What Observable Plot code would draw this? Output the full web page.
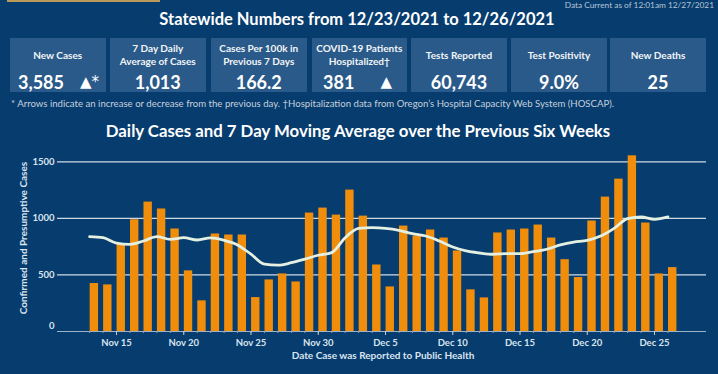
<!DOCTYPE html>
<html>
<head>
<meta charset="utf-8">
<script src="https://cdn.jsdelivr.net/npm/d3@7"></script>
<script src="https://cdn.jsdelivr.net/npm/@observablehq/plot@0.6"></script>
<style>
  html, body { margin: 0; padding: 0; }
  body { width: 718px; height: 374px; background: #063c6e; position: relative; overflow: hidden; font-family: Lato, "Open Sans", sans-serif; color: #fff; }
  .abs { position: absolute; }
  #goldbar { left: 7px; top: 0; width: 153px; height: 2px; background: #b99a5a; }
  #current { right: 4px; top: 0px; font-size: 8.3px; color: #b9c6d6; line-height: 10px; }
  #title { left: 0; width: 714px; top: 8px; text-align: center; font-size: 16.5px; font-weight: 700; line-height: 22px; }
  .box { position: absolute; top: 38px; height: 54px; width: 95.5px; background: #2a5a89; }
  .box .lab { position: absolute; left: 0; right: 0; top: 17px; transform: translateY(-50%); text-align: center; font-size: 10px; font-weight: 700; line-height: 12.7px; color: #f2f5f8; }
  .box .val { position: absolute; left: 0; right: 0; top: 44px; transform: translateY(-50%); text-align: center; font-size: 18px; font-weight: 700; line-height: 20px; }
  .box .val.split { text-align: left; }
  .arrow { position: absolute; top: 44px; transform: translateY(-50%); font-family: "DejaVu Sans", sans-serif; font-size: 15px; line-height: 20px; }
  #foot { left: 11px; top: 98px; font-size: 9.6px; color: #c6d0dc; line-height: 12px; white-space: nowrap; }
  #ctitle { left: 0; width: 716px; top: 120px; text-align: center; font-size: 16.8px; font-weight: 700; line-height: 22px; }
  #chart { left: 0; top: 140px; }
</style>
</head>
<body>
<div id="goldbar" class="abs"></div>
<div id="current" class="abs">Data Current as of 12:01am 12/27/2021</div>
<div id="title" class="abs">Statewide Numbers from 12/23/2021 to 12/26/2021</div>
<div id="boxes"></div>
<div id="foot" class="abs">* Arrows indicate an increase or decrease from the previous day. †Hospitalization data from Oregon’s Hospital Capacity Web System (HOSCAP).</div>
<div id="ctitle" class="abs">Daily Cases and 7 Day Moving Average over the Previous Six Weeks</div>
<div id="chart" class="abs"></div>
<script>
// ---- Data ----
const boxLabels = ["New Cases", "7 Day Daily<br>Average of Cases", "Cases Per 100k in<br>Previous 7 Days", "COVID-19 Patients<br>Hospitalized†", "Tests Reported", "Test Positivity", "New Deaths"];
const boxValues = ["3,585", "1,013", "166.2", "381", "60,743", "9.0%", "25"];
const boxArrows = ["▲*", "", "", "▲", "", "", ""];

const dates = [
  "2021-11-13","2021-11-14","2021-11-15","2021-11-16","2021-11-17","2021-11-18","2021-11-19","2021-11-20",
  "2021-11-21","2021-11-22","2021-11-23","2021-11-24","2021-11-25","2021-11-26","2021-11-27","2021-11-28",
  "2021-11-29","2021-11-30","2021-12-01","2021-12-02","2021-12-03","2021-12-04","2021-12-05","2021-12-06",
  "2021-12-07","2021-12-08","2021-12-09","2021-12-10","2021-12-11","2021-12-12","2021-12-13","2021-12-14",
  "2021-12-15","2021-12-16","2021-12-17","2021-12-18","2021-12-19","2021-12-20","2021-12-21","2021-12-22",
  "2021-12-23","2021-12-24","2021-12-25","2021-12-26"
];
const dailyCases = [
  424, 412, 776, 988, 1144, 1083, 906, 536,
  271, 862, 853, 853, 300, 456, 509, 438,
  1047, 1091, 1029, 1250, 1020, 588, 394, 932,
  844, 897, 826, 712, 368, 297, 871, 897,
  906, 941, 826, 635, 477, 977, 1188, 1347,
  1553, 959, 509, 565
];
const movingAvg = [
  838, 829, 782, 771, 800, 838, 815, 829,
  809, 827, 806, 765, 683, 595, 586, 608,
  639, 674, 697, 829, 912, 918, 912, 895,
  865, 844, 800, 747, 712, 694, 683, 688,
  688, 706, 727, 765, 791, 806, 844, 912,
  997, 1012, 992, 1013
];
const xTickLabels = ["2021-11-15","2021-11-20","2021-11-25","2021-11-30","2021-12-05","2021-12-10","2021-12-15","2021-12-20","2021-12-25"];
const yTicks = [0, 500, 1000, 1500];

// ---- Stat boxes ----
const boxLefts = [10, 110, 211, 311.5, 411.3, 511.3, 610.3];
const boxesEl = document.getElementById("boxes");
boxLabels.forEach((lab, i) => {
  const b = document.createElement("div");
  b.className = "box";
  b.style.left = boxLefts[i] + "px";
  let html = `<div class="lab">${lab}</div>`;
  if (boxArrows[i]) {
    const valLeft = i === 0 ? 8 : 11.5;
    const arrLeft = i === 0 ? 70 : 69;
    html += `<div class="val split" style="left:${valLeft}px">${boxValues[i]}</div>`;
    html += `<div class="arrow" style="left:${arrLeft}px">${boxArrows[i]}</div>`;
  } else {
    html += `<div class="val">${boxValues[i]}</div>`;
  }
  b.innerHTML = html;
  boxesEl.appendChild(b);
});

// ---- Chart ----
const parse = d3.utcParse("%Y-%m-%d");
const rows = dates.map((d, i) => ({date: parse(d), cases: dailyCases[i], avg: movingAvg[i]}));
const tickDates = xTickLabels.map(parse);
const allDates = rows.map(r => r.date);

const light = "#dbe4ee";
const chart = Plot.plot({
  width: 718,
  height: 234,
  marginLeft: 57,
  marginRight: 12,
  marginTop: 10,
  marginBottom: 43,
  style: {background: "transparent", color: light, fontFamily: "Lato, sans-serif", fontSize: "9px", fontWeight: "700", overflow: "visible"},
  x: {type: "utc", domain: [new Date(Date.UTC(2021, 10, 10, 14, 43)), new Date(Date.UTC(2021, 11, 28, 20, 47))]},
  y: {domain: [0, 1600]},
  marks: [
    Plot.gridY({ticks: [500, 1000, 1500], stroke: "#e4ecf4", strokeOpacity: 0.9, strokeWidth: 1.2}),
    Plot.ruleY([0], {stroke: "#9fb2c6", strokeWidth: 1}),
    Plot.rectY(rows, {
      x1: d => d3.utcHour.offset(d.date, 1),
      x2: d => d3.utcHour.offset(d.date, 16),
      y: "cases",
      fill: "#f08d0b"
    }),
    Plot.lineY(rows, {x: "date", y: "avg", stroke: "#e4f0e2", strokeWidth: 2.8, curve: "monotone-x"}),
    Plot.axisX({ticks: allDates, tickSize: 2, tickFormat: () => "", stroke: "#8fa3b8", label: null}),
    Plot.axisX({ticks: tickDates, tickSize: 4, tickPadding: 4, tickFormat: d3.utcFormat("%b %-d"), stroke: "#c0ccd8", label: null, fontSize: 9.5}),
    Plot.axisY({ticks: yTicks.filter(v => v > 0), tickSize: 0, tickPadding: 3, tickFormat: d3.format("d"), label: null, fontSize: 9.5}),
    Plot.axisY({ticks: yTicks.filter(v => v === 0), tickSize: 0, tickPadding: 3, tickFormat: d3.format("d"), label: null, dy: -6, fontSize: 9.5}),
    Plot.text(["Confirmed and Presumptive Cases"], {frameAnchor: "left", textAnchor: "middle", rotate: -90, dx: -34, dy: -3, fill: light, fontSize: 10}),
    Plot.text(["Date Case was Reported to Public Health"], {frameAnchor: "bottom", textAnchor: "middle", dy: 27, dx: 1, fill: light, fontSize: 10})
  ]
});
document.getElementById("chart").appendChild(chart);
</script>
</body>
</html>
